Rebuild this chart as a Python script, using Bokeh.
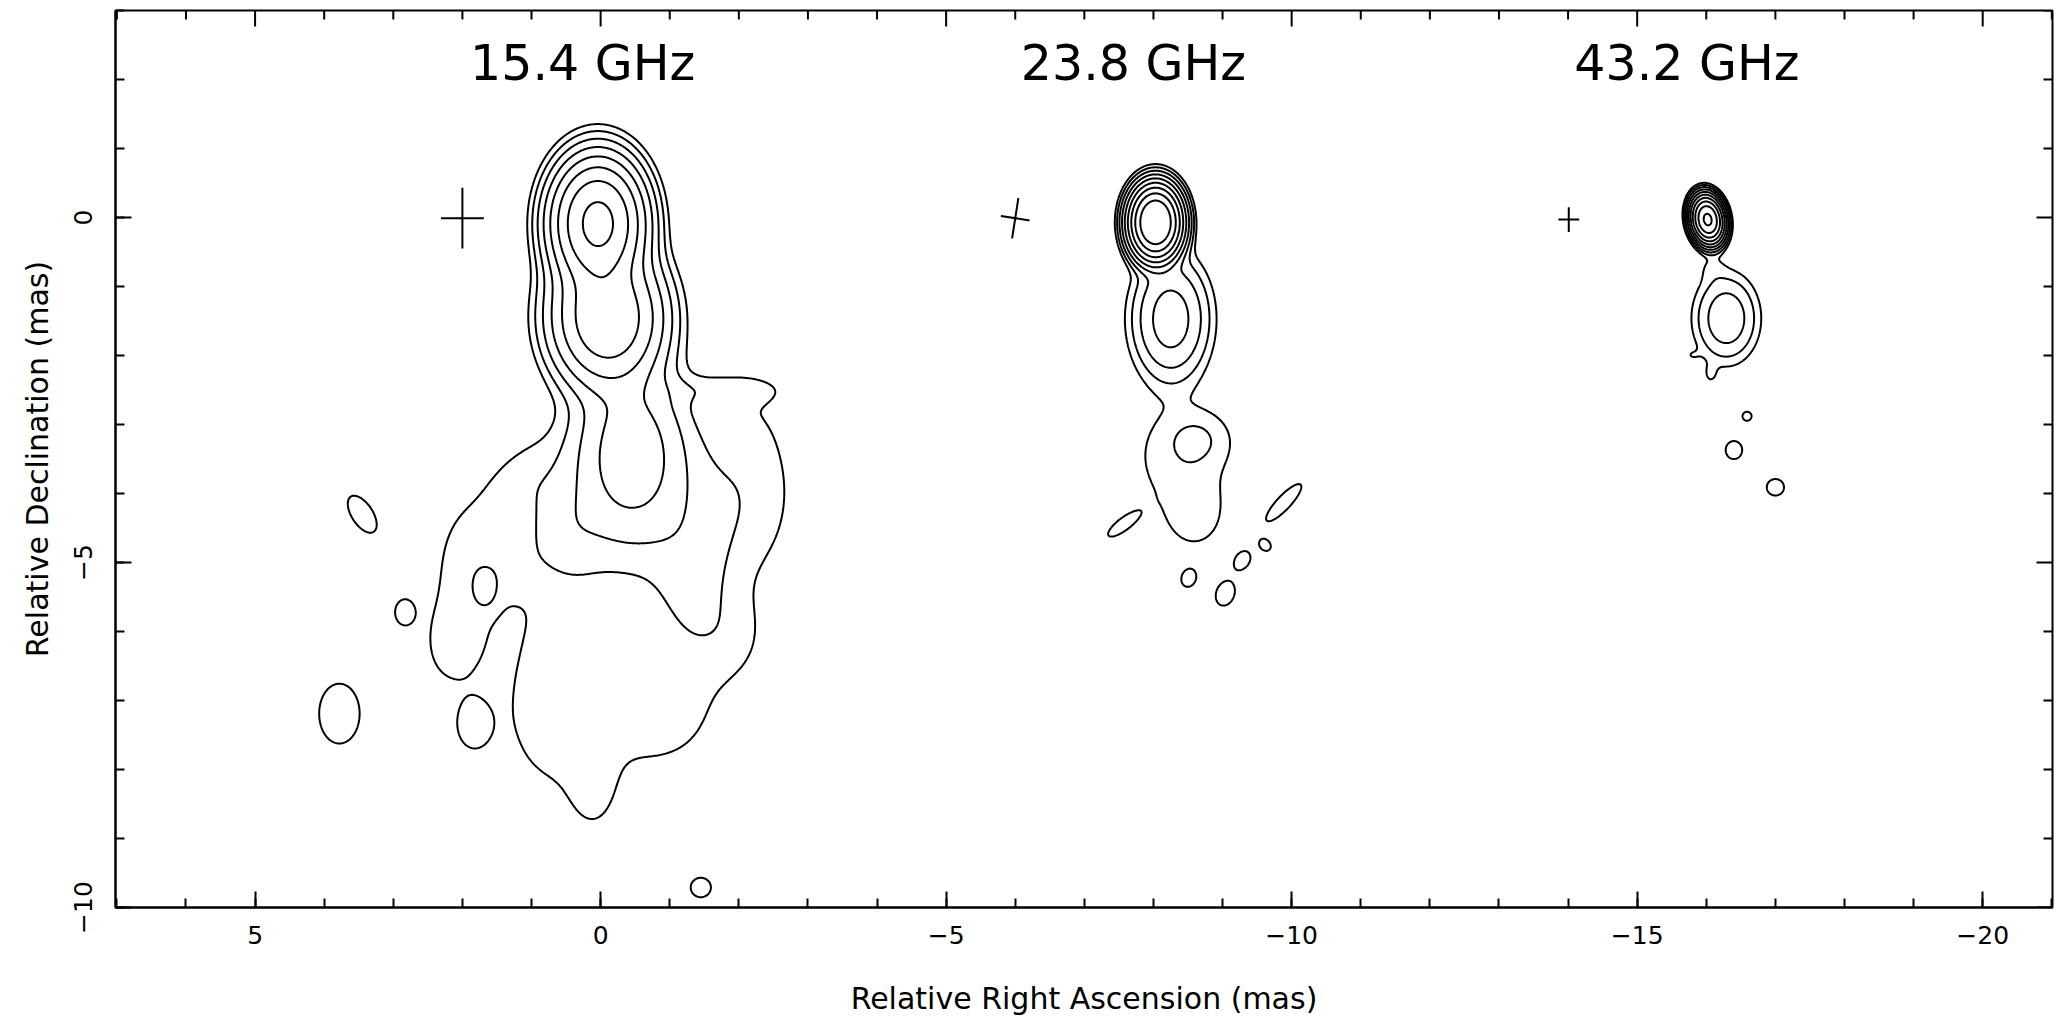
import numpy as np
from bokeh.plotting import figure
from bokeh.models import Range1d, SingleIntervalTicker, CustomJSTickFormatter
from bokeh.core.properties import value
from bokeh.embed import file_html
from bokeh.resources import INLINE

FONT = "DejaVu Sans"

# ---------------- data ----------------
freq_labels = ["15.4 GHz", "23.8 GHz", "43.2 GHz"]
label_x = [0.26, -7.71, -15.72]
label_y = [2.23, 2.23, 2.23]

# contour levels, in units of the lowest contour
levels_15 = [1, 2, 4, 8, 16, 32, 64, 128]
levels_23 = [1, 2, 4, 8, 16, 32, 64, 128, 256]
levels_43 = [1, 2, 4, 8, 16, 32, 64, 128, 256, 512]

# Gaussian brightness components: RA (mas), Dec (mas), peak, sigma_minor, sigma_major, PA (deg)
c15_x  = [0.04, -0.10, -0.45, -0.45, -1.30, 0.50, 1.23, 1.95, 1.30, 2.15, 0.60, 0.10, -0.85, -1.90, -2.20, -1.75,
          0.20, -2.00,
          3.45, 2.84, 1.64, 3.78, 1.85, -1.45]
c15_y  = [-0.08, -1.45, -3.35, -4.20, -5.30, -4.60, -3.87, -5.15, -5.10, -6.20, -7.10, -8.30, -7.15, -6.10, -3.80, -2.50,
          -5.90, -3.00,
          -4.30, -5.72, -5.43, -7.19, -7.36, -9.71]
c15_a  = [160, 60, 11, 2.7, 1.9, 1.5, 0.9, 1.45, 0.9, 1.4, 1.8, 1.1, 1.5, 1.0, 1.1, 1.15,
          0.8, 0.15,
          1.8, 1.8, 1.0, 1.8, 1.6, 1.8]
c15_sx = [0.32, 0.40, 0.45, 1.05, 0.40, 0.35, 0.30, 0.35, 0.35, 0.30, 0.60, 0.25, 0.65, 0.40, 0.50, 0.60,
          0.60, 0.35,
          0.14, 0.12, 0.12, 0.27, 0.20, 0.135]
c15_sy = [0.45, 0.50, 0.70, 0.78, 0.75, 0.45, 0.50, 0.70, 0.35, 0.45, 0.90, 0.45, 0.65, 0.50, 1.10, 0.15,
          0.45, 0.35,
          0.28, 0.16, 0.20, 0.40, 0.29, 0.13]
c15_pa = [0, 0, 0, 0, 0, 0, -41, 0, 0, 0, 0, 0, 0, 0, 0, 0,
          0, 0,
          33, 0, 0, 0, 0, 0]

c23_x  = [-8.03, -8.25, -8.65, -8.40, -8.60, -7.55, -9.89, -9.62, -9.29, -8.51, -9.04]
c23_y  = [-0.07, -1.47, -3.20, -3.50, -4.35, -4.46, -4.13, -4.75, -4.97, -5.23, -5.45]
c23_a  = [630, 11.5, 1.2, 1.5, 1.3, 1.75, 1.6, 1.6, 1.6, 1.6, 1.6]
c23_sx = [0.164, 0.30, 0.31, 0.55, 0.30, 0.076, 0.10, 0.088, 0.10, 0.10, 0.135]
c23_sy = [0.235, 0.48, 0.26, 0.60, 0.35, 0.227, 0.36, 0.072, 0.135, 0.125, 0.185]
c23_pa = [0, 0, 0, 0, 0, -53, -43, -50, -35, -20, -20]

c43_x  = [-16.02, -16.29, -16.08, -16.06, -15.78, -16.59, -16.40, -17.00]
c43_y  = [-0.03, -1.46, -0.72, -2.28, -2.00, -2.88, -3.37, -3.91]
c43_a  = [600, 6.6, 0.8, 0.9, 0.7, 1.8, 1.8, 1.8]
c43_sx = [0.10, 0.26, 0.14, 0.08, 0.10, 0.06, 0.11, 0.115]
c43_sy = [0.15, 0.36, 0.15, 0.12, 0.07, 0.06, 0.12, 0.11]
c43_pa = [10, 0, 0, 0, 0, 0, 0, 0]

# restoring-beam crosses: centre, full major, full minor, PA
beam_x = [2.00, -6.00, -14.01]
beam_y = [-0.01, -0.01, -0.03]
beam_major = [0.88, 0.59, 0.36]
beam_minor = [0.62, 0.42, 0.30]
beam_pa = [0.0, -8.8, 0.0]

# axes
x_lo, x_hi = 7.02, -21.01
y_lo, y_hi = -10.0, 3.0
FRAME_W, FRAME_H = 1937, 897
MAJOR_TICK_PX, MINOR_TICK_PX = 16, 9

# ---------------- helpers ----------------
def brightness(gx, gy, cx, cy, amp, sx, sy, pa):
    X, Y = np.meshgrid(gx, gy)
    z = np.zeros_like(X)
    for x0, y0, a, s1, s2, t in zip(cx, cy, amp, sx, sy, pa):
        th = np.deg2rad(t)
        dx = X - x0
        dy = Y - y0
        u = dx * np.cos(th) - dy * np.sin(th)
        v = dx * np.sin(th) + dy * np.cos(th)
        z += a * np.exp(-0.5 * ((u / s1) ** 2 + (v / s2) ** 2))
    return z

p = figure(frame_width=FRAME_W, frame_height=FRAME_H,
           x_range=Range1d(x_lo, x_hi), y_range=Range1d(y_lo, y_hi),
           output_backend="svg", toolbar_location=None,
           min_border_left=115, min_border_right=2, min_border_top=10, min_border_bottom=114,
           background_fill_color="white", border_fill_color="white")
p.grid.visible = False
p.outline_line_color = "black"
p.outline_line_width = 2

# contour maps
g15x = np.arange(-3.4, 4.8, 0.02)
g15y = np.arange(-10.2, 2.3, 0.02)
z15 = brightness(g15x, g15y, c15_x, c15_y, c15_a, c15_sx, c15_sy, c15_pa)
p.contour(x=g15x, y=g15y, z=z15, levels=levels_15, line_color="black", line_width=2)

g23x = np.arange(-11.0, -6.6, 0.015)
g23y = np.arange(-6.2, 1.6, 0.015)
z23 = brightness(g23x, g23y, c23_x, c23_y, c23_a, c23_sx, c23_sy, c23_pa)
p.contour(x=g23x, y=g23y, z=z23, levels=levels_23, line_color="black", line_width=2)

g43x = np.arange(-17.8, -15.0, 0.01)
g43y = np.arange(-4.6, 1.2, 0.01)
z43 = brightness(g43x, g43y, c43_x, c43_y, c43_a, c43_sx, c43_sy, c43_pa)
p.contour(x=g43x, y=g43y, z=z43, levels=levels_43, line_color="black", line_width=2)

# beam crosses
bx = np.array(beam_x); by = np.array(beam_y)
th = np.deg2rad(beam_pa)
maj = np.array(beam_major) / 2.0
mnr = np.array(beam_minor) / 2.0
p.segment(x0=bx - maj * np.sin(th), y0=by - maj * np.cos(th),
          x1=bx + maj * np.sin(th), y1=by + maj * np.cos(th), line_color="black", line_width=2)
p.segment(x0=bx - mnr * np.cos(th), y0=by + mnr * np.sin(th),
          x1=bx + mnr * np.cos(th), y1=by - mnr * np.sin(th), line_color="black", line_width=2)

# frequency labels
p.text(x=label_x, y=label_y, text=freq_labels, text_font=value(FONT), text_font_size="49px",
       text_align="center", text_baseline="middle", text_color="black")

# inward ticks along the top and right edges (same ticks as the bottom / left axes)
ux = abs(x_hi - x_lo) / FRAME_W
uy = abs(y_hi - y_lo) / FRAME_H
tx = np.arange(np.ceil(min(x_lo, x_hi)), np.floor(max(x_lo, x_hi)) + 1)
ty = np.arange(np.ceil(y_lo), np.floor(y_hi) + 1)
tx_len = np.where(tx % 5 == 0, MAJOR_TICK_PX, MINOR_TICK_PX) * uy
ty_len = np.where(ty % 5 == 0, MAJOR_TICK_PX, MINOR_TICK_PX) * ux
p.segment(x0=tx, y0=np.full_like(tx, y_hi), x1=tx, y1=y_hi - tx_len, line_color="black", line_width=2)
p.segment(x0=np.full_like(ty, x_hi), y0=ty, x1=x_hi + ty_len, y1=ty, line_color="black", line_width=2)

# axes
fmt_code = "return (tick < 0) ? ('\\u2212' + (-tick)) : ('' + tick);"

def style_axis(ax):
    ax.ticker = SingleIntervalTicker(interval=5, num_minor_ticks=5)
    ax.axis_line_width = 2
    ax.axis_line_color = "black"
    ax.major_tick_in = MAJOR_TICK_PX
    ax.major_tick_out = 0
    ax.minor_tick_in = MINOR_TICK_PX
    ax.minor_tick_out = 0
    ax.major_tick_line_width = 2
    ax.minor_tick_line_width = 2
    ax.major_tick_line_color = "black"
    ax.minor_tick_line_color = "black"
    ax.formatter = CustomJSTickFormatter(code=fmt_code)
    ax.major_label_text_font = FONT
    ax.major_label_text_font_size = "25px"
    ax.major_label_text_color = "black"
    ax.axis_label_text_font = FONT
    ax.axis_label_text_font_size = "30px"
    ax.axis_label_text_font_style = "normal"
    ax.axis_label_text_color = "black"

xa = p.xaxis[0]
style_axis(xa)
xa.axis_label = "Relative Right Ascension (mas)"
xa.major_label_standoff = 18
xa.axis_label_standoff = 34

ya = p.yaxis[0]
style_axis(ya)
ya.axis_label = "Relative Declination (mas)"
ya.major_label_orientation = "vertical"
ya.major_label_standoff = 24
ya.axis_label_standoff = 16

open("out.html", "w", encoding="utf-8").write(file_html(p, INLINE))
